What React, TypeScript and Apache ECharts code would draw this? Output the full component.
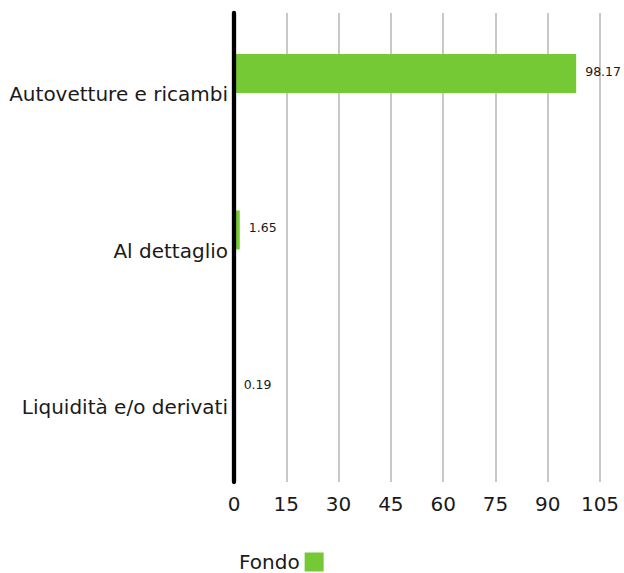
import React, { useEffect, useRef } from "react";
import * as echarts from "echarts";

const categories = ["Autovetture e ricambi", "Al dettaglio", "Liquidità e/o derivati"];
const fondoValues = [98.17, 1.65, 0.19];
const emptyValues = [null, null, null];
const xMin = 0;
const xMax = 105;
const xInterval = 15;
const seriesName = "Fondo";

export default function App() {
  const ref = useRef<HTMLDivElement>(null);
  useEffect(() => {
    const chart = echarts.init(ref.current!, null, { renderer: "svg" });
    const font = "'DejaVu Sans', sans-serif";
    chart.setOption({
      animation: false,
      grid: { left: 234, right: 24, top: 13, bottom: 91, containLabel: false },
      legend: {
        data: [seriesName],
        top: 552,
        left: 239,
        padding: 0,
        align: "right",
        icon: "rect",
        itemWidth: 19,
        itemHeight: 19,
        itemGap: 10,
        textStyle: { fontFamily: font, fontSize: 20, color: "#1a1a1a", width: 66 },
      },
      xAxis: {
        type: "value",
        min: xMin,
        max: xMax,
        interval: xInterval,
        axisLine: { show: false },
        axisTick: { show: false },
        splitLine: { show: true, lineStyle: { color: "#c8c8c8", width: 2 } },
        axisLabel: { fontFamily: font, fontSize: 20, color: "#1a1a1a", margin: 12 },
      },
      yAxis: {
        type: "category",
        data: categories,
        inverse: true,
        z: 10,
        axisLine: { show: true, lineStyle: { color: "#000", width: 4.3 } },
        axisTick: { show: false },
        axisLabel: {
          margin: 6,
          formatter: (v: string) => `{l|${v}}`,
          rich: {
            l: { fontFamily: font, fontSize: 20, color: "#1a1a1a", padding: [6, 0, 0, 0] },
          },
        },
      },
      series: [
        {
          name: seriesName,
          type: "bar",
          data: fondoValues,
          barWidth: 39,
          barGap: "-10%",
          itemStyle: { color: "#74c935" },
          label: {
            show: true,
            position: "right",
            distance: 9,
            offset: [0, -2],
            fontFamily: font,
            fontSize: 12.5,
            color: "#1a1a1a",
            formatter: (p: any) => p.value.toFixed(2),
          },
        },
        {
          name: "",
          type: "bar",
          data: emptyValues,
          barWidth: 39,
          itemStyle: { color: "#000" },
        },
      ],
    });
    return () => chart.dispose();
  }, []);
  return <div ref={ref} style={{ width: 624, height: 573, position: "absolute", left: 0, top: 0 }} />;
}
